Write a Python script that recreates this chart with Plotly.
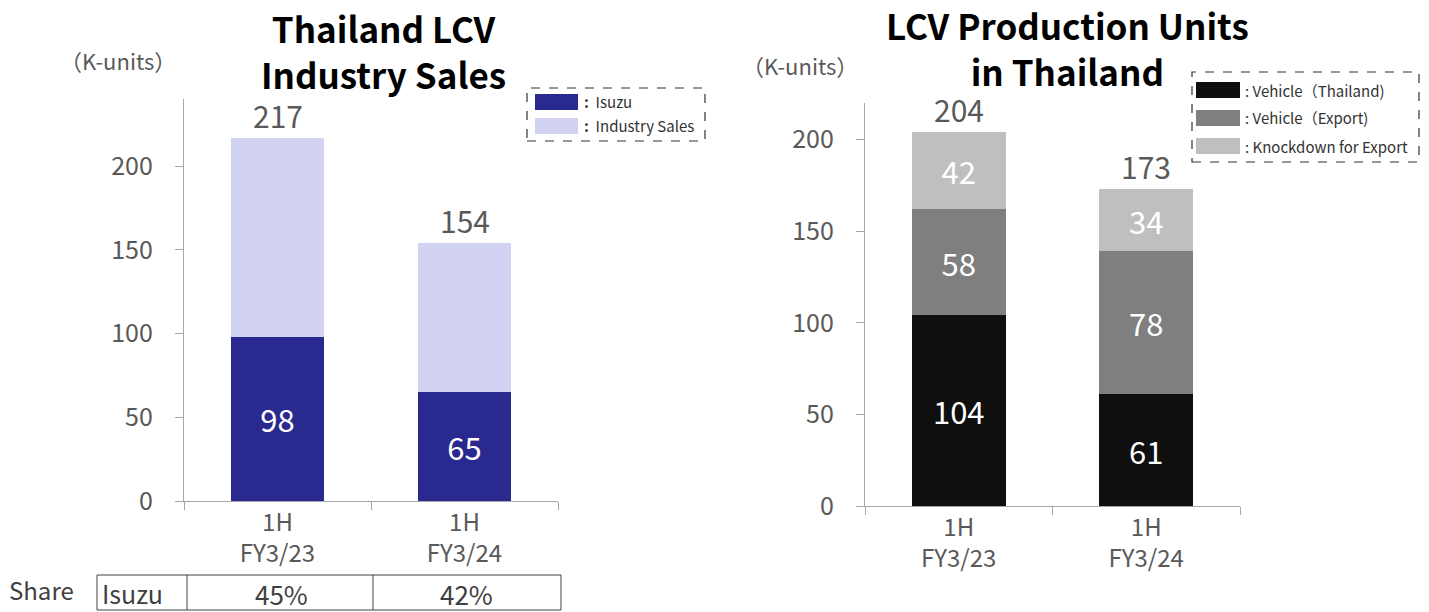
import plotly.graph_objects as go
import numpy as np

W, H = 1429, 612

# ---------------- data ----------------
categories = ["1H<br>FY3/23", "1H<br>FY3/24"]

# Left chart: Thailand LCV industry sales (K-units)
isuzu_sales = [98, 65]
industry_sales = [217, 154]
isuzu_share = ["45%", "42%"]
left_series_names = ["Isuzu", "Industry Sales"]

# Right chart: LCV production units in Thailand (K-units)
vehicle_thailand = [104, 61]
vehicle_export = [58, 78]
knockdown_export = [42, 34]
right_series_names = ["Vehicle（Thailand)", "Vehicle（Export)", "Knockdown for Export"]

left_title = "Thailand LCV<br>Industry Sales"
right_title = "LCV Production Units<br>in Thailand"

# ---------------- styles ----------------
FONT = "Noto Sans CJK JP"
C_ISUZU = "#29298F"
C_IND = "#D2D2F2"
C_BLACK = "#0F0F0F"
C_GRAY = "#7F7F7F"
C_LGRAY = "#BFBFBF"
TXT = "#595959"
AX = "#A6A6A6"


def px(x):
    return x / W


def py(y):
    return 1 - y / H


fig = go.Figure()

ind_rest = (np.array(industry_sales) - np.array(isuzu_sales)).tolist()
fig.add_trace(go.Bar(x=categories, y=isuzu_sales, name=left_series_names[0],
                     marker=dict(color=C_ISUZU, line=dict(width=0)),
                     text=[str(v) for v in isuzu_sales], textposition="inside",
                     insidetextanchor="middle",
                     textfont=dict(color="white", size=31, family=FONT),
                     xaxis="x", yaxis="y", showlegend=False))
fig.add_trace(go.Bar(x=categories, y=ind_rest, name=left_series_names[1],
                     marker=dict(color=C_IND, line=dict(width=0)),
                     xaxis="x", yaxis="y", showlegend=False, hoverinfo="skip"))

right_vals = [vehicle_thailand, vehicle_export, knockdown_export]
right_cols = [C_BLACK, C_GRAY, C_LGRAY]
for name, vals, col in zip(right_series_names, right_vals, right_cols):
    fig.add_trace(go.Bar(x=categories, y=vals, name=name,
                         marker=dict(color=col, line=dict(width=0)),
                         text=[str(v) for v in vals], textposition="inside",
                         insidetextanchor="middle",
                         textfont=dict(color="white", size=31, family=FONT),
                         xaxis="x2", yaxis="y2", showlegend=False))

right_totals = (np.array(vehicle_thailand) + np.array(vehicle_export) + np.array(knockdown_export)).tolist()

annotations = []
for c, t in zip(categories, industry_sales):
    annotations.append(dict(x=c, y=t, xref="x", yref="y", text=str(t), showarrow=False,
                            yanchor="bottom", yshift=-1,
                            font=dict(size=30, color=TXT, family=FONT)))
for c, t in zip(categories, right_totals):
    annotations.append(dict(x=c, y=t, xref="x2", yref="y2", text=str(t), showarrow=False,
                            yanchor="bottom", yshift=-1,
                            font=dict(size=30, color=TXT, family=FONT)))

# titles
annotations.append(dict(x=px(383), y=py(50), xref="paper", yref="paper", text="<b>" + left_title + "</b>",
                        showarrow=False, xanchor="center", yanchor="middle",
                        font=dict(size=35, color="black", family=FONT)))
annotations.append(dict(x=px(1067), y=py(48), xref="paper", yref="paper", text="<b>" + right_title + "</b>",
                        showarrow=False, xanchor="center", yanchor="middle",
                        font=dict(size=35, color="black", family=FONT)))
# units
annotations.append(dict(x=px(118), y=py(60), xref="paper", yref="paper", text="（K-units）",
                        showarrow=False, xanchor="center", yanchor="middle",
                        font=dict(size=22, color=TXT, family=FONT)))
annotations.append(dict(x=px(800), y=py(65), xref="paper", yref="paper", text="（K-units）",
                        showarrow=False, xanchor="center", yanchor="middle",
                        font=dict(size=22, color=TXT, family=FONT)))

shapes = []
# left legend
shapes.append(dict(type="rect", xref="paper", yref="paper", x0=px(527), x1=px(705), y0=py(141), y1=py(88),
                   line=dict(color="#333333", width=1.2, dash="dash"), fillcolor="rgba(0,0,0,0)"))
for i, (name, col) in enumerate(zip(left_series_names, [C_ISUZU, C_IND])):
    yc = 102 + i * 24
    shapes.append(dict(type="rect", xref="paper", yref="paper", x0=px(535), x1=px(578),
                       y0=py(yc + 8), y1=py(yc - 8), line=dict(width=0), fillcolor=col))
    annotations.append(dict(x=px(582), y=py(yc), xref="paper", yref="paper", text="<b>:</b>  " + name,
                            showarrow=False, xanchor="left", yanchor="middle",
                            font=dict(size=15, color="#333333", family=FONT)))
# right legend
shapes.append(dict(type="rect", xref="paper", yref="paper", x0=px(1192), x1=px(1419), y0=py(162), y1=py(72),
                   line=dict(color="#333333", width=1.2, dash="dash"), fillcolor="rgba(0,0,0,0)"))
for i, (name, col) in enumerate(zip(right_series_names, right_cols)):
    yc = 90 + i * 28
    shapes.append(dict(type="rect", xref="paper", yref="paper", x0=px(1196), x1=px(1240),
                       y0=py(yc + 8), y1=py(yc - 8), line=dict(width=0), fillcolor=col))
    annotations.append(dict(x=px(1243), y=py(yc), xref="paper", yref="paper", text=": " + name,
                            showarrow=False, xanchor="left", yanchor="middle",
                            font=dict(size=15, color="#333333", family=FONT)))

# share table
shapes.append(dict(type="rect", xref="paper", yref="paper", x0=px(97), x1=px(561), y0=py(610), y1=py(575),
                   line=dict(color="#404040", width=1), fillcolor="rgba(0,0,0,0)"))
for xd in [187, 373]:
    shapes.append(dict(type="line", xref="paper", yref="paper", x0=px(xd), x1=px(xd), y0=py(610), y1=py(575),
                       line=dict(color="#404040", width=1)))
annotations.append(dict(x=px(41), y=py(589), xref="paper", yref="paper", text="Share",
                        showarrow=False, xanchor="center", yanchor="middle",
                        font=dict(size=24, color="#404040", family=FONT)))
annotations.append(dict(x=px(132), y=py(593), xref="paper", yref="paper", text="Isuzu",
                        showarrow=False, xanchor="center", yanchor="middle",
                        font=dict(size=25, color="#404040", family=FONT)))
for xc, s in zip([281, 467], isuzu_share):
    annotations.append(dict(x=px(xc), y=py(593), xref="paper", yref="paper", text=s,
                            showarrow=False, xanchor="center", yanchor="middle",
                            font=dict(size=26, color="#404040", family=FONT)))

axis_common = dict(showline=True, linecolor=AX, linewidth=1.3, ticks="outside", ticklen=8,
                   tickcolor=AX, tickwidth=1.3, showgrid=False, zeroline=False, automargin=False,
                   fixedrange=True)
xfont = dict(size=24, color=TXT, family=FONT)
yfont = dict(size=25, color=TXT, family=FONT)

fig.update_layout(
    autosize=True,
    margin=dict(l=0, r=0, t=0, b=0),
    paper_bgcolor="white", plot_bgcolor="white",
    barmode="stack", bargap=0.5,
    showlegend=False,
    font=dict(family=FONT, color=TXT),
    xaxis=dict(domain=[px(184), px(558)], anchor="y", type="category", tickson="boundaries",
               tickfont=xfont, **axis_common),
    yaxis=dict(domain=[py(501), py(99)], anchor="x", range=[0, 240], tickvals=[0, 50, 100, 150, 200],
               ticklabelstandoff=17, tickfont=yfont, **axis_common),
    xaxis2=dict(domain=[px(865), px(1240)], anchor="y2", type="category", tickson="boundaries",
                tickfont=xfont, **axis_common),
    yaxis2=dict(domain=[py(506), py(103)], anchor="x2", range=[0, 220], tickvals=[0, 50, 100, 150, 200],
                ticklabelstandoff=17, tickfont=yfont, **axis_common),
    annotations=annotations,
    shapes=shapes,
)

fig.write_html("out.html")
